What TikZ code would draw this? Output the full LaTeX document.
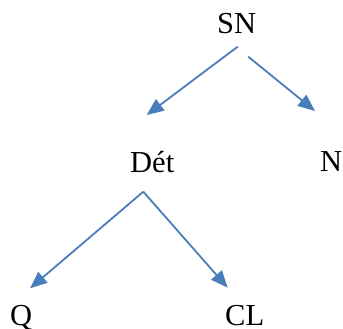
\documentclass[tikz,border=0pt]{standalone}
\usepackage{fontspec}
\setmainfont{Liberation Serif}
\usetikzlibrary{arrows.meta}
\definecolor{arrowblue}{RGB}{74,126,187}
\begin{document}
\begin{tikzpicture}[x=1pt,y=-1pt,
  lbl/.style={anchor=base west,inner sep=0pt,font=\fontsize{30.5}{36}\selectfont},
  conn/.style={draw=arrowblue,line width=1.8pt,-{Triangle[length=17pt,width=14pt]},fill=arrowblue}]
\useasboundingbox (0,0) rectangle (343,329);
\node[lbl] (SN) at (217,34) {SN};
\node[lbl] (Det) at (130,172.5) {Dét};
\node[lbl] (N) at (320,171.5) {N};
\node[lbl] (Q) at (10,325) {Q};
\node[lbl] (CL) at (225,325) {CL};
\coordinate (s1) at (237.7,46.7);
\coordinate (e1) at (146.7,115);
\coordinate (s2) at (248.3,56.7);
\coordinate (e2) at (315,111);
\coordinate (s3) at (143.3,191.7);
\coordinate (e3) at (30,288.3);
\coordinate (e4) at (227.7,287.7);
\draw[conn] (s1) -- (e1);
\draw[conn] (s2) -- (e2);
\draw[conn] (s3) -- (e3);
\draw[conn] (s3) -- (e4);
\end{tikzpicture}
\end{document}
